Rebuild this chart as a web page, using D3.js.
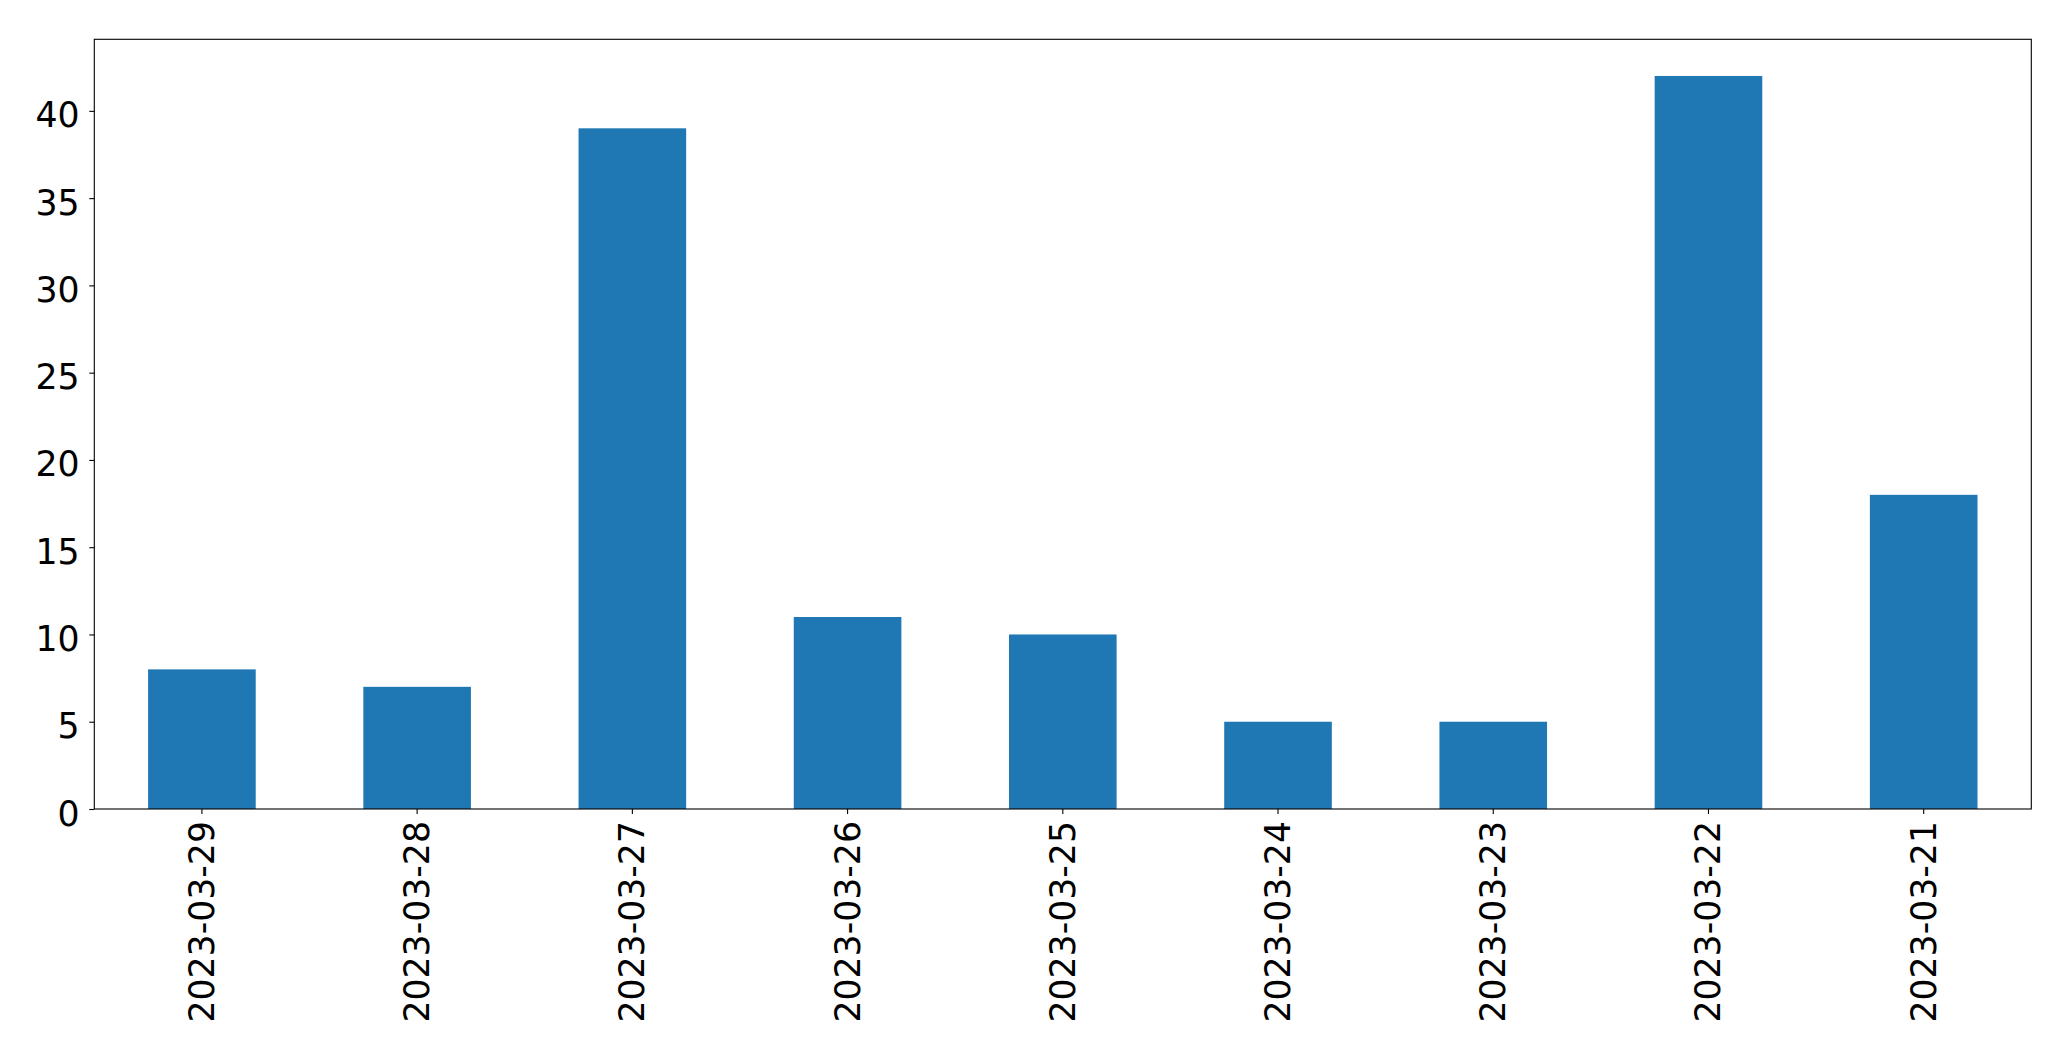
<!DOCTYPE html>
<html><head><meta charset="utf-8">
<script src="https://cdn.jsdelivr.net/npm/d3@7"></script>
<style>body{margin:0;background:#fff}svg{display:block}</style>
</head><body>
<script>
const categories = ["2023-03-29","2023-03-28","2023-03-27","2023-03-26","2023-03-25","2023-03-24","2023-03-23","2023-03-22","2023-03-21"];
const values = [8, 7, 39, 11, 10, 5, 5, 42, 18];
const yTicks = [0, 5, 10, 15, 20, 25, 30, 35, 40];

const W = 2071, H = 1061;
const mLeft = 94.3, mRight = 2031.3, mTop = 39.3, mBottom = 809;
const fs = 34.7;

const svg = d3.select("body").append("svg").attr("width", W).attr("height", H)
  .style("font-family", "'DejaVu Sans', sans-serif");

const x = d3.scaleBand().domain(categories).range([mLeft, mRight]).paddingInner(0.5).paddingOuter(0.25);
const y = d3.scaleLinear().domain([0, d3.max(values) * 1.05]).range([mBottom, mTop]);

svg.append("g").selectAll("rect").data(values).join("rect")
  .attr("x", (d, i) => x(categories[i]))
  .attr("y", d => y(d))
  .attr("width", x.bandwidth())
  .attr("height", d => y(0) - y(d))
  .attr("fill", "#1f77b4");

// frame
svg.append("rect").attr("x", mLeft).attr("y", mTop).attr("width", mRight - mLeft).attr("height", mBottom - mTop)
  .attr("fill", "none").attr("stroke", "#000").attr("stroke-width", 1.1);

// y axis
const yg = svg.append("g").attr("transform", `translate(${mLeft},0)`)
  .call(d3.axisLeft(y).tickValues(yTicks).tickSize(5).tickPadding(9.7).tickFormat(d3.format("d")));
yg.select(".domain").remove();
yg.selectAll("line").attr("stroke", "#000").attr("stroke-width", 1.1);
yg.selectAll("text").attr("font-size", fs).attr("fill", "#000").attr("font-family", "'DejaVu Sans', sans-serif")
  .attr("dy", null).attr("y", 16);

// x axis
const xg = svg.append("g").attr("transform", `translate(0,${mBottom})`)
  .call(d3.axisBottom(x).tickSize(5).tickPadding(0));
xg.select(".domain").remove();
xg.selectAll("line").attr("stroke", "#000").attr("stroke-width", 1.1);
xg.selectAll("text").attr("font-size", fs).attr("fill", "#000").attr("font-family", "'DejaVu Sans', sans-serif")
  .attr("text-anchor", "end").attr("dy", null).attr("y", null)
  .attr("transform", "translate(12,12) rotate(-90)");
</script>
</body></html>
